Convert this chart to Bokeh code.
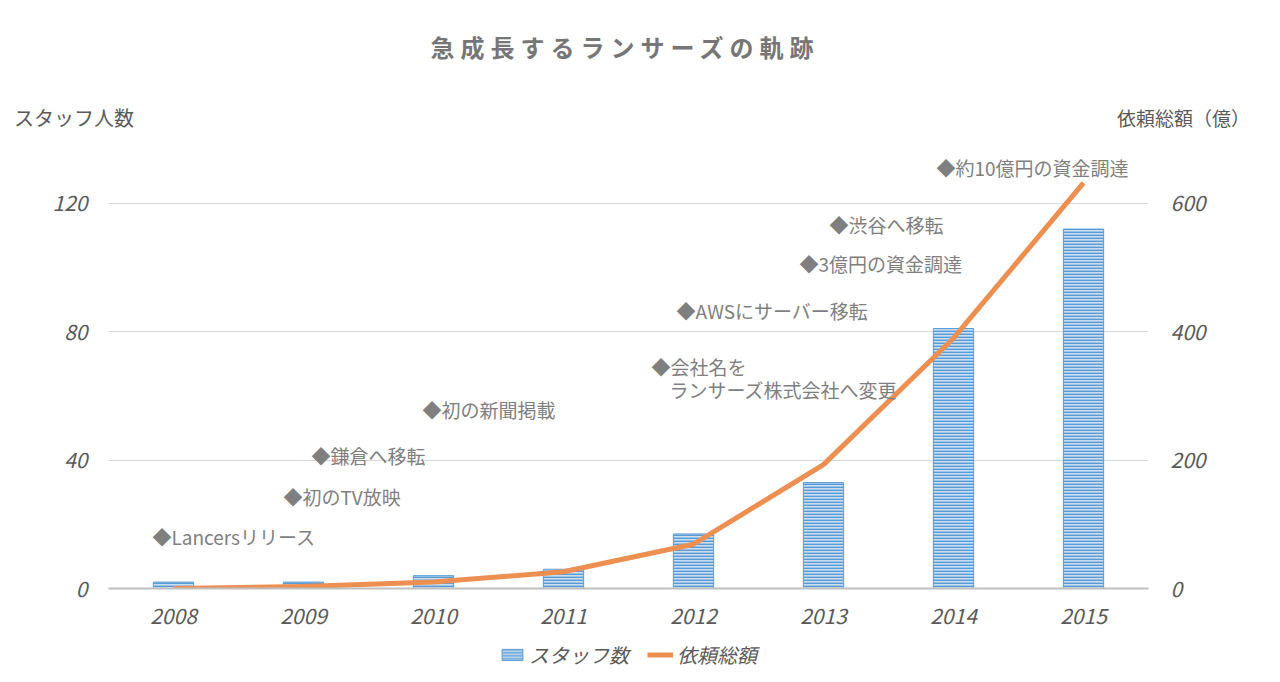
from bokeh.plotting import figure
from bokeh.models import Range1d, LinearAxis, FixedTicker, Legend, LegendItem, ColumnDataSource, Div
from bokeh.layouts import column
from bokeh.core.properties import value
from bokeh.embed import file_html
from bokeh.resources import INLINE

years = ["2008", "2009", "2010", "2011", "2012", "2013", "2014", "2015"]
staff = [2, 2, 4, 6, 17, 33, 81, 112]
amount = [0, 3, 10, 26, 69, 193, 390, 632]

ann_text = ["◆Lancersリリース", "◆初のTV放映", "◆鎌倉へ移転", "◆初の新聞掲載",
            "◆会社名を", "ランサーズ株式会社へ変更", "◆AWSにサーバー移転",
            "◆3億円の資金調達", "◆渋谷へ移転", "◆約10億円の資金調達"]
ann_x = [0.338, 1.346, 1.562, 2.415, 4.177, 4.315, 4.37, 5.315, 5.546, 6.369]
ann_y = [16.2, 28.7, 41.5, 55.8, 69.2, 62.0, 86.6, 101.3, 113.5, 131.2]

title_text = "急成長するランサーズの軌跡"
left_title = "スタッフ人数"
right_title = "依頼総額（億）"
series_names = ["スタッフ数", "依頼総額"]

FONT = "Noto Sans CJK JP"
GREY = "#595959"
BLUE = "#5B9BD5"
ORANGE = "#EE8F52"

header = Div(width=1264, height=140, margin=0, text=f"""
<div style="position:relative;width:1264px;height:140px;font-family:'{FONT}';color:{GREY};">
  <div style="position:absolute;left:0;top:30px;width:1250px;text-align:center;font-size:24px;line-height:34px;letter-spacing:6px;font-weight:bold;color:#767676;white-space:nowrap;">{title_text}</div>
  <div style="position:absolute;left:14px;top:103px;font-size:20px;line-height:30px;white-space:nowrap;">{left_title}</div>
  <div style="position:absolute;right:14px;top:103px;font-size:19px;line-height:30px;white-space:nowrap;">{right_title}</div>
</div>""")

xs = [i + 0.5 for i in range(len(years))]
src = ColumnDataSource(dict(x=xs, staff=staff, amount=amount))

p = figure(width=1264, height=492, x_range=Range1d(0, 8), y_range=Range1d(0, 139.6),
           min_border_left=108, min_border_right=116, min_border_top=0, min_border_bottom=44,
           output_backend="svg", toolbar_location=None)
p.outline_line_color = None
p.extra_y_ranges = {"amount": Range1d(0, 698)}

bar_style = dict(fill_color="#C9DEF1", hatch_pattern="horizontal_line", hatch_color=BLUE,
                 hatch_scale=3, hatch_weight=1.8, line_color=BLUE, line_width=1)
line_style = dict(line_color=ORANGE, line_width=5, line_join="round")

p.vbar(x="x", top="staff", width=0.31, source=src, **bar_style)
p.line(x="x", y="amount", source=src, y_range_name="amount", **line_style)

p.xaxis.ticker = FixedTicker(ticks=xs)
p.xaxis.major_label_overrides = {x: y for x, y in zip(xs, years)}
p.xaxis.axis_line_color = "#BFBFBF"
p.xaxis.axis_line_width = 2
p.xaxis.major_tick_line_color = None
p.xaxis.minor_tick_line_color = None
p.xaxis.major_label_standoff = 13

p.yaxis.ticker = FixedTicker(ticks=[0, 40, 80, 120])
p.yaxis.axis_line_color = None
p.yaxis.major_tick_line_color = None
p.yaxis.minor_tick_line_color = None
p.yaxis.major_label_standoff = 15

ra = LinearAxis(y_range_name="amount", ticker=FixedTicker(ticks=[0, 200, 400, 600]))
ra.axis_line_color = None
ra.major_tick_line_color = None
ra.minor_tick_line_color = None
ra.major_label_standoff = 16
p.add_layout(ra, "right")

for ax in [p.xaxis[0], p.yaxis[0], ra]:
    ax.major_label_text_font = FONT
    ax.major_label_text_font_size = "21px"
    ax.major_label_text_font_style = "italic"
    ax.major_label_text_color = GREY

p.xgrid.grid_line_color = None
p.ygrid.ticker = FixedTicker(ticks=[40, 80, 120])
p.ygrid.grid_line_color = "#D9D9D9"
p.ygrid.grid_line_width = 1

p.text(x=ann_x, y=ann_y, text=ann_text, text_font=value(FONT), text_font_size="19px",
       text_color="#7F7F7F", text_align="left", text_baseline="middle")

# legend row: same series drawn off-screen so only the legend is visible
lg = figure(width=1264, height=44, x_range=Range1d(1000, 1001), y_range=Range1d(1000, 1001),
            x_axis_type=None, y_axis_type=None, min_border=0,
            output_backend="svg", toolbar_location=None)
lg.outline_line_color = None
lg.xgrid.visible = False
lg.ygrid.visible = False
r_bar = lg.vbar(x="x", top="staff", width=0.31, source=src, **bar_style)
r_line = lg.line(x="x", y="amount", source=src, **line_style)
legend = Legend(items=[LegendItem(label=series_names[0], renderers=[r_bar]),
                       LegendItem(label=series_names[1], renderers=[r_line])],
                orientation="horizontal", location="center",
                label_text_font=FONT, label_text_font_size="20px",
                label_text_font_style="italic", label_text_color=GREY,
                border_line_color=None, background_fill_alpha=0,
                glyph_width=26, glyph_height=14, spacing=18, label_standoff=4,
                padding=2, margin=0)
lg.add_layout(legend, "center")

layout = column(header, p, lg, spacing=0)
open("out.html", "w").write(file_html(layout, INLINE))
